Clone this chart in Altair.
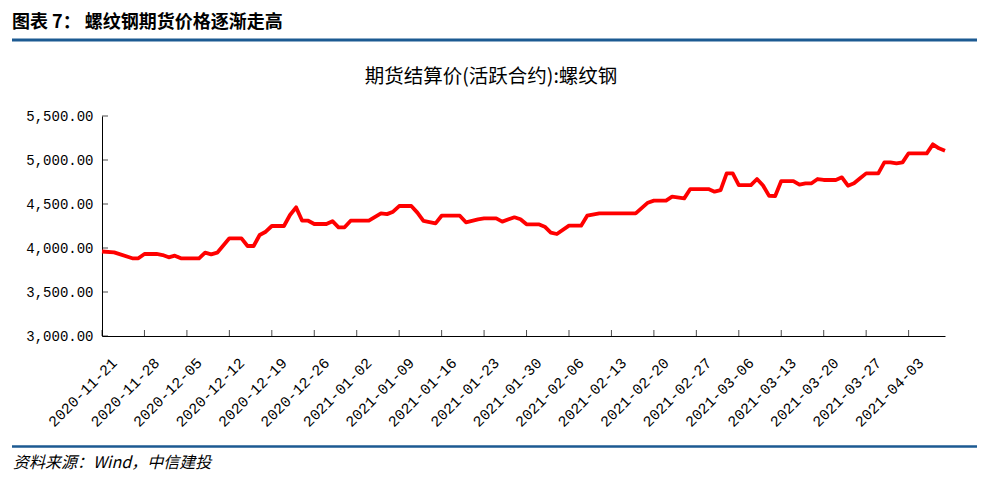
import altair as alt
import pandas as pd

# ---------------- data ----------------
dates = [
    "2020-11-21", "2020-11-23", "2020-11-26", "2020-11-27", "2020-11-28", "2020-11-30", "2020-12-01", "2020-12-02", "2020-12-03", "2020-12-04",
    "2020-12-07", "2020-12-08", "2020-12-09", "2020-12-10", "2020-12-12", "2020-12-14", "2020-12-15", "2020-12-16", "2020-12-17", "2020-12-18",
    "2020-12-19", "2020-12-21", "2020-12-22", "2020-12-23", "2020-12-24", "2020-12-25", "2020-12-26", "2020-12-28", "2020-12-29", "2020-12-30",
    "2020-12-31", "2021-01-01", "2021-01-04", "2021-01-06", "2021-01-07", "2021-01-08", "2021-01-09", "2021-01-11", "2021-01-12", "2021-01-13",
    "2021-01-15", "2021-01-16", "2021-01-19", "2021-01-20", "2021-01-22", "2021-01-23", "2021-01-25", "2021-01-26", "2021-01-28", "2021-01-29",
    "2021-01-30", "2021-02-01", "2021-02-02", "2021-02-03", "2021-02-04", "2021-02-06", "2021-02-08", "2021-02-09", "2021-02-11", "2021-02-17",
    "2021-02-19", "2021-02-20", "2021-02-22", "2021-02-23", "2021-02-25", "2021-02-26", "2021-03-01", "2021-03-02", "2021-03-03", "2021-03-04",
    "2021-03-05", "2021-03-06", "2021-03-08", "2021-03-09", "2021-03-10", "2021-03-11", "2021-03-12", "2021-03-13", "2021-03-15", "2021-03-16",
    "2021-03-17", "2021-03-18", "2021-03-19", "2021-03-20", "2021-03-22", "2021-03-23", "2021-03-24", "2021-03-25", "2021-03-26", "2021-03-27",
    "2021-03-29", "2021-03-30", "2021-03-31", "2021-04-01", "2021-04-02", "2021-04-03", "2021-04-06", "2021-04-07", "2021-04-08", "2021-04-09",
]
prices = [
    3960, 3950, 3883, 3883, 3932, 3932, 3920, 3894, 3913, 3883,
    3883, 3947, 3928, 3947, 4110, 4110, 4023, 4023, 4148, 4185,
    4250, 4250, 4375, 4462, 4310, 4310, 4273, 4273, 4305, 4235,
    4235, 4310, 4310, 4394, 4385, 4413, 4477, 4477, 4402, 4307,
    4280, 4367, 4367, 4292, 4326, 4337, 4337, 4300, 4349, 4326,
    4269, 4269, 4242, 4174, 4159, 4254, 4254, 4367, 4394, 4394,
    4515, 4538, 4538, 4583, 4564, 4670, 4670, 4640, 4658, 4848,
    4848, 4715, 4715, 4784, 4710, 4592, 4591, 4761, 4761, 4720,
    4735, 4735, 4784, 4773, 4773, 4803, 4708, 4735, 4792, 4848,
    4848, 4973, 4973, 4962, 4973, 5076, 5076, 5178, 5133, 5106,
]
y_ticks = [3000, 3500, 4000, 4500, 5000, 5500]
y_domain = [3000, 5500]
x_domain = ["2020-11-21", "2021-04-09"]
x_tick_dates = [
    "2020-11-21", "2020-11-28", "2020-12-05", "2020-12-12", "2020-12-19", "2020-12-26",
    "2021-01-02", "2021-01-09", "2021-01-16", "2021-01-23", "2021-01-30", "2021-02-06",
    "2021-02-13", "2021-02-20", "2021-02-27", "2021-03-06", "2021-03-13", "2021-03-20",
    "2021-03-27", "2021-04-03",
]
header_text = ["图表 7：  螺纹钢期货价格逐渐走高"]
chart_title = ["期货结算价(活跃合约):螺纹钢"]
source_text = ["资料来源：Wind，中信建投"]

# ---------------- styles ----------------
CJK = "Noto Sans CJK SC"
NUM = "Liberation Mono"
BLUE = "#1c5a92"
RED = "#ff0000"


def dt(s):
    y, m, d = map(int, s.split("-"))
    return alt.DateTime(year=y, month=m, date=d)


df = pd.DataFrame({"date": pd.to_datetime(dates), "price": prices})
xt_df = pd.DataFrame({"date": pd.to_datetime(x_tick_dates)})
yt_df = pd.DataFrame({"price": y_ticks})

x_scale = alt.Scale(domain=[dt(x_domain[0]), dt(x_domain[1])])
y_scale = alt.Scale(domain=y_domain, nice=False, zero=False)

x_axis = alt.Axis(
    values=[dt(s) for s in x_tick_dates],
    format="%Y-%m-%d",
    labelAngle=-45,
    labelAlign="right",
    labelBaseline="top",
    labelOffset=7,
    labelPadding=19,
    ticks=False,
    tickSize=0,
    grid=False,
    title=None,
    domainColor="#000000",
    domainWidth=1,
    labelFont=NUM,
    labelFontSize=15,
    labelColor="#000000",
    labelOverlap=False,
)
y_axis = alt.Axis(
    values=y_ticks,
    format=",.2f",
    ticks=False,
    tickSize=0,
    grid=False,
    title=None,
    domainColor="#000000",
    domainWidth=1,
    labelFont=NUM,
    labelFontSize=14,
    labelColor="#000000",
    labelPadding=9,
)

line = alt.Chart(df).mark_line(color=RED, strokeWidth=3.8, strokeJoin="round").encode(
    x=alt.X("date:T", scale=x_scale, axis=x_axis),
    y=alt.Y("price:Q", scale=y_scale, axis=y_axis),
)

y_tick_marks = alt.Chart(yt_df).mark_tick(color="#000000", thickness=1, size=6).encode(
    y=alt.Y("price:Q", scale=y_scale, axis=y_axis),
    x=alt.value(3),
)
x_tick_marks = alt.Chart(xt_df).mark_tick(color="#000000", thickness=1, size=6).encode(
    x=alt.X("date:T", scale=x_scale, axis=x_axis),
    y=alt.value(217),
)


def text_layer(txt, x, y, size, weight="normal", style="normal", align="left"):
    return alt.Chart(pd.DataFrame({"t": txt})).mark_text(
        align=align, baseline="middle", fontSize=size, fontWeight=weight,
        fontStyle=style, font=CJK, color="#000000",
    ).encode(text="t:N", x=alt.value(x), y=alt.value(y))


def hrule(x1, x2, y, w):
    return alt.Chart(pd.DataFrame({"a": [0]})).mark_rule(color=BLUE, strokeWidth=w).encode(
        x=alt.value(x1), x2=alt.value(x2), y=alt.value(y)
    )


header = text_layer(header_text, -90, -93.5, 18, weight="bold")
header_rule = hrule(-90, 875, -76, 3)
title = text_layer(chart_title, 389, -39, 19.5, align="center")
footer_rule = hrule(-90, 875, 330.5, 2.5)
footer = text_layer(source_text, -89, 347, 16, style="italic")

chart = alt.layer(
    line, y_tick_marks, x_tick_marks, header, header_rule, title, footer_rule, footer
).properties(
    width=843,
    height=220,
    autosize=alt.AutoSizeParams(type="none"),
    padding={"left": 94, "top": 108, "right": 36, "bottom": 138},
    background="#ffffff",
).configure_view(stroke=None)

chart.save("out.html", embed_options={"renderer": "svg", "actions": False})
